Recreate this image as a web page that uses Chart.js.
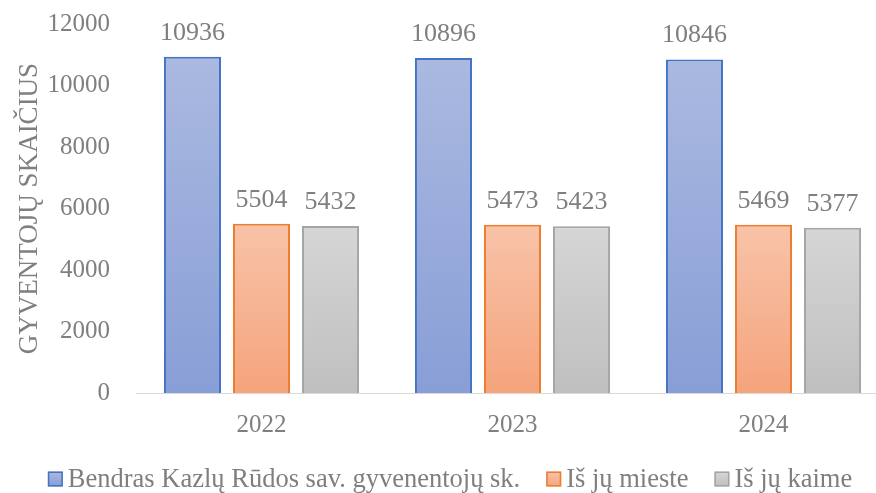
<!DOCTYPE html>
<html>
<head>
<meta charset="utf-8">
<script src="https://cdn.jsdelivr.net/npm/chart.js@4/dist/chart.umd.min.js"></script>
<style>
  html, body { margin: 0; padding: 0; background: #fff; overflow: hidden; }
  #wrap { width: 890px; height: 493px; }
</style>
</head>
<body>
<div id="wrap"><canvas id="gyvChart" width="890" height="493"></canvas></div>
<script>
const years = ['2022', '2023', '2024'];
const seriesNames = ['Bendras Kazlų Rūdos sav. gyvenentojų sk.', 'Iš jų mieste', 'Iš jų kaime'];
const totalValues = [10936, 10896, 10846];
const cityValues = [5504, 5473, 5469];
const villageValues = [5432, 5423, 5377];
const yTicks = [0, 2000, 4000, 6000, 8000, 10000, 12000];

const textGray = '#7f7f7f';
const fontFamily = '"Liberation Serif", "Times New Roman", serif';

// spalvos: virsus, apacia, krastas
const palette = [
    { top: '#aab9e0', bottom: '#889ed6', border: '#4472c4' },
    { top: '#f8c3a9', bottom: '#f5a47c', border: '#ed7d31' },
    { top: '#d6d6d6', bottom: '#bfbfbf', border: '#a5a5a5' },
];

function barFill(i) {
    return function (ctx) {
        const chart = ctx.chart;
        if (ctx.type !== 'data' || !chart.chartArea) return palette[i].bottom;
        const y = chart.scales.y;
        const top = y.getPixelForValue(ctx.raw);
        const bottom = y.getPixelForValue(0);
        const g = chart.ctx.createLinearGradient(0, top, 0, bottom);
        g.addColorStop(0, palette[i].top);
        g.addColorStop(1, palette[i].bottom);
        return g;
    };
}

// reiksmes virs stulpeliu
const valueLabels = {
    id: 'valueLabels',
    afterDatasetsDraw(chart) {
        const c = chart.ctx;
        c.save();
        c.font = '26px ' + fontFamily;
        c.fillStyle = textGray;
        c.textAlign = 'center';
        c.textBaseline = 'alphabetic';
        chart.data.datasets.forEach((ds, di) => {
            chart.getDatasetMeta(di).data.forEach((bar, i) => {
                c.fillText(ds.data[i], bar.x, bar.y - 17);
            });
        });
        c.restore();
    }
};

// legenda apacioje
const bottomLegend = {
    id: 'bottomLegend',
    afterDraw(chart) {
        const c = chart.ctx;
        c.save();
        c.font = '26.5px ' + fontFamily;
        const box = 15, gap = 5, spacing = 26;
        const widths = chart.data.datasets.map(ds => box + gap + c.measureText(ds.label).width);
        const total = widths.reduce((a, b) => a + b, 0) + spacing * (widths.length - 1);
        let x = 450 - total / 2;
        const yc = 479;
        chart.data.datasets.forEach((ds, i) => {
            const g = c.createLinearGradient(0, yc - box / 2, 0, yc + box / 2);
            g.addColorStop(0, palette[i].top);
            g.addColorStop(1, palette[i].bottom);
            c.fillStyle = g;
            c.fillRect(x, yc - box / 2, box, box);
            c.strokeStyle = palette[i].border;
            c.lineWidth = 1.5;
            c.strokeRect(x + 0.75, yc - box / 2 + 0.75, box - 1.5, box - 1.5);
            c.fillStyle = textGray;
            c.textAlign = 'left';
            c.textBaseline = 'middle';
            c.fillText(ds.label, x + box + gap, yc + 1);
            x += widths[i] + spacing;
        });
        c.restore();
    }
};

const allValues = [totalValues, cityValues, villageValues];

new Chart(document.getElementById('gyvChart'), {
    type: 'bar',
    data: {
        labels: years,
        datasets: allValues.map((vals, i) => ({
            label: seriesNames[i],
            data: vals,
            backgroundColor: barFill(i),
            borderColor: palette[i].border,
            borderWidth: 2,
            categoryPercentage: 0.825,
            barPercentage: 0.826,
        })),
    },
    options: {
        responsive: false,
        animation: false,
        layout: { padding: { top: 24, bottom: 55, left: 0, right: 1 } },
        plugins: {
            legend: { display: false },
            tooltip: { enabled: false },
        },
        scales: {
            x: {
                grid: { display: false, drawTicks: false },
                border: { display: true, color: '#d9d9d9', width: 1 },
                ticks: { color: textGray, font: { family: fontFamily, size: 25 }, padding: 17 },
                afterFit(scale) {
                    scale.height = 45;
                    scale.paddingLeft = 0;
                    scale.paddingRight = 0;
                },
            },
            y: {
                min: 0,
                max: 12000,
                afterBuildTicks(scale) { scale.ticks = yTicks.map(v => ({ value: v })); },
                grid: { display: false, drawTicks: false },
                border: { display: false },
                ticks: {
                    color: textGray,
                    font: { family: fontFamily, size: 25 },
                    padding: 26,
                    callback: v => String(v),
                },
                title: {
                    display: true,
                    text: 'GYVENTOJŲ SKAIČIUS',
                    color: textGray,
                    font: { family: fontFamily, size: 27 },
                    padding: { top: 14, bottom: 0 },
                },
                afterFit(scale) {
                    scale.width = 136;
                    scale.paddingTop = 0;
                    scale.paddingBottom = 0;
                },
            },
        },
    },
    plugins: [valueLabels, bottomLegend],
});
</script>
</body>
</html>
